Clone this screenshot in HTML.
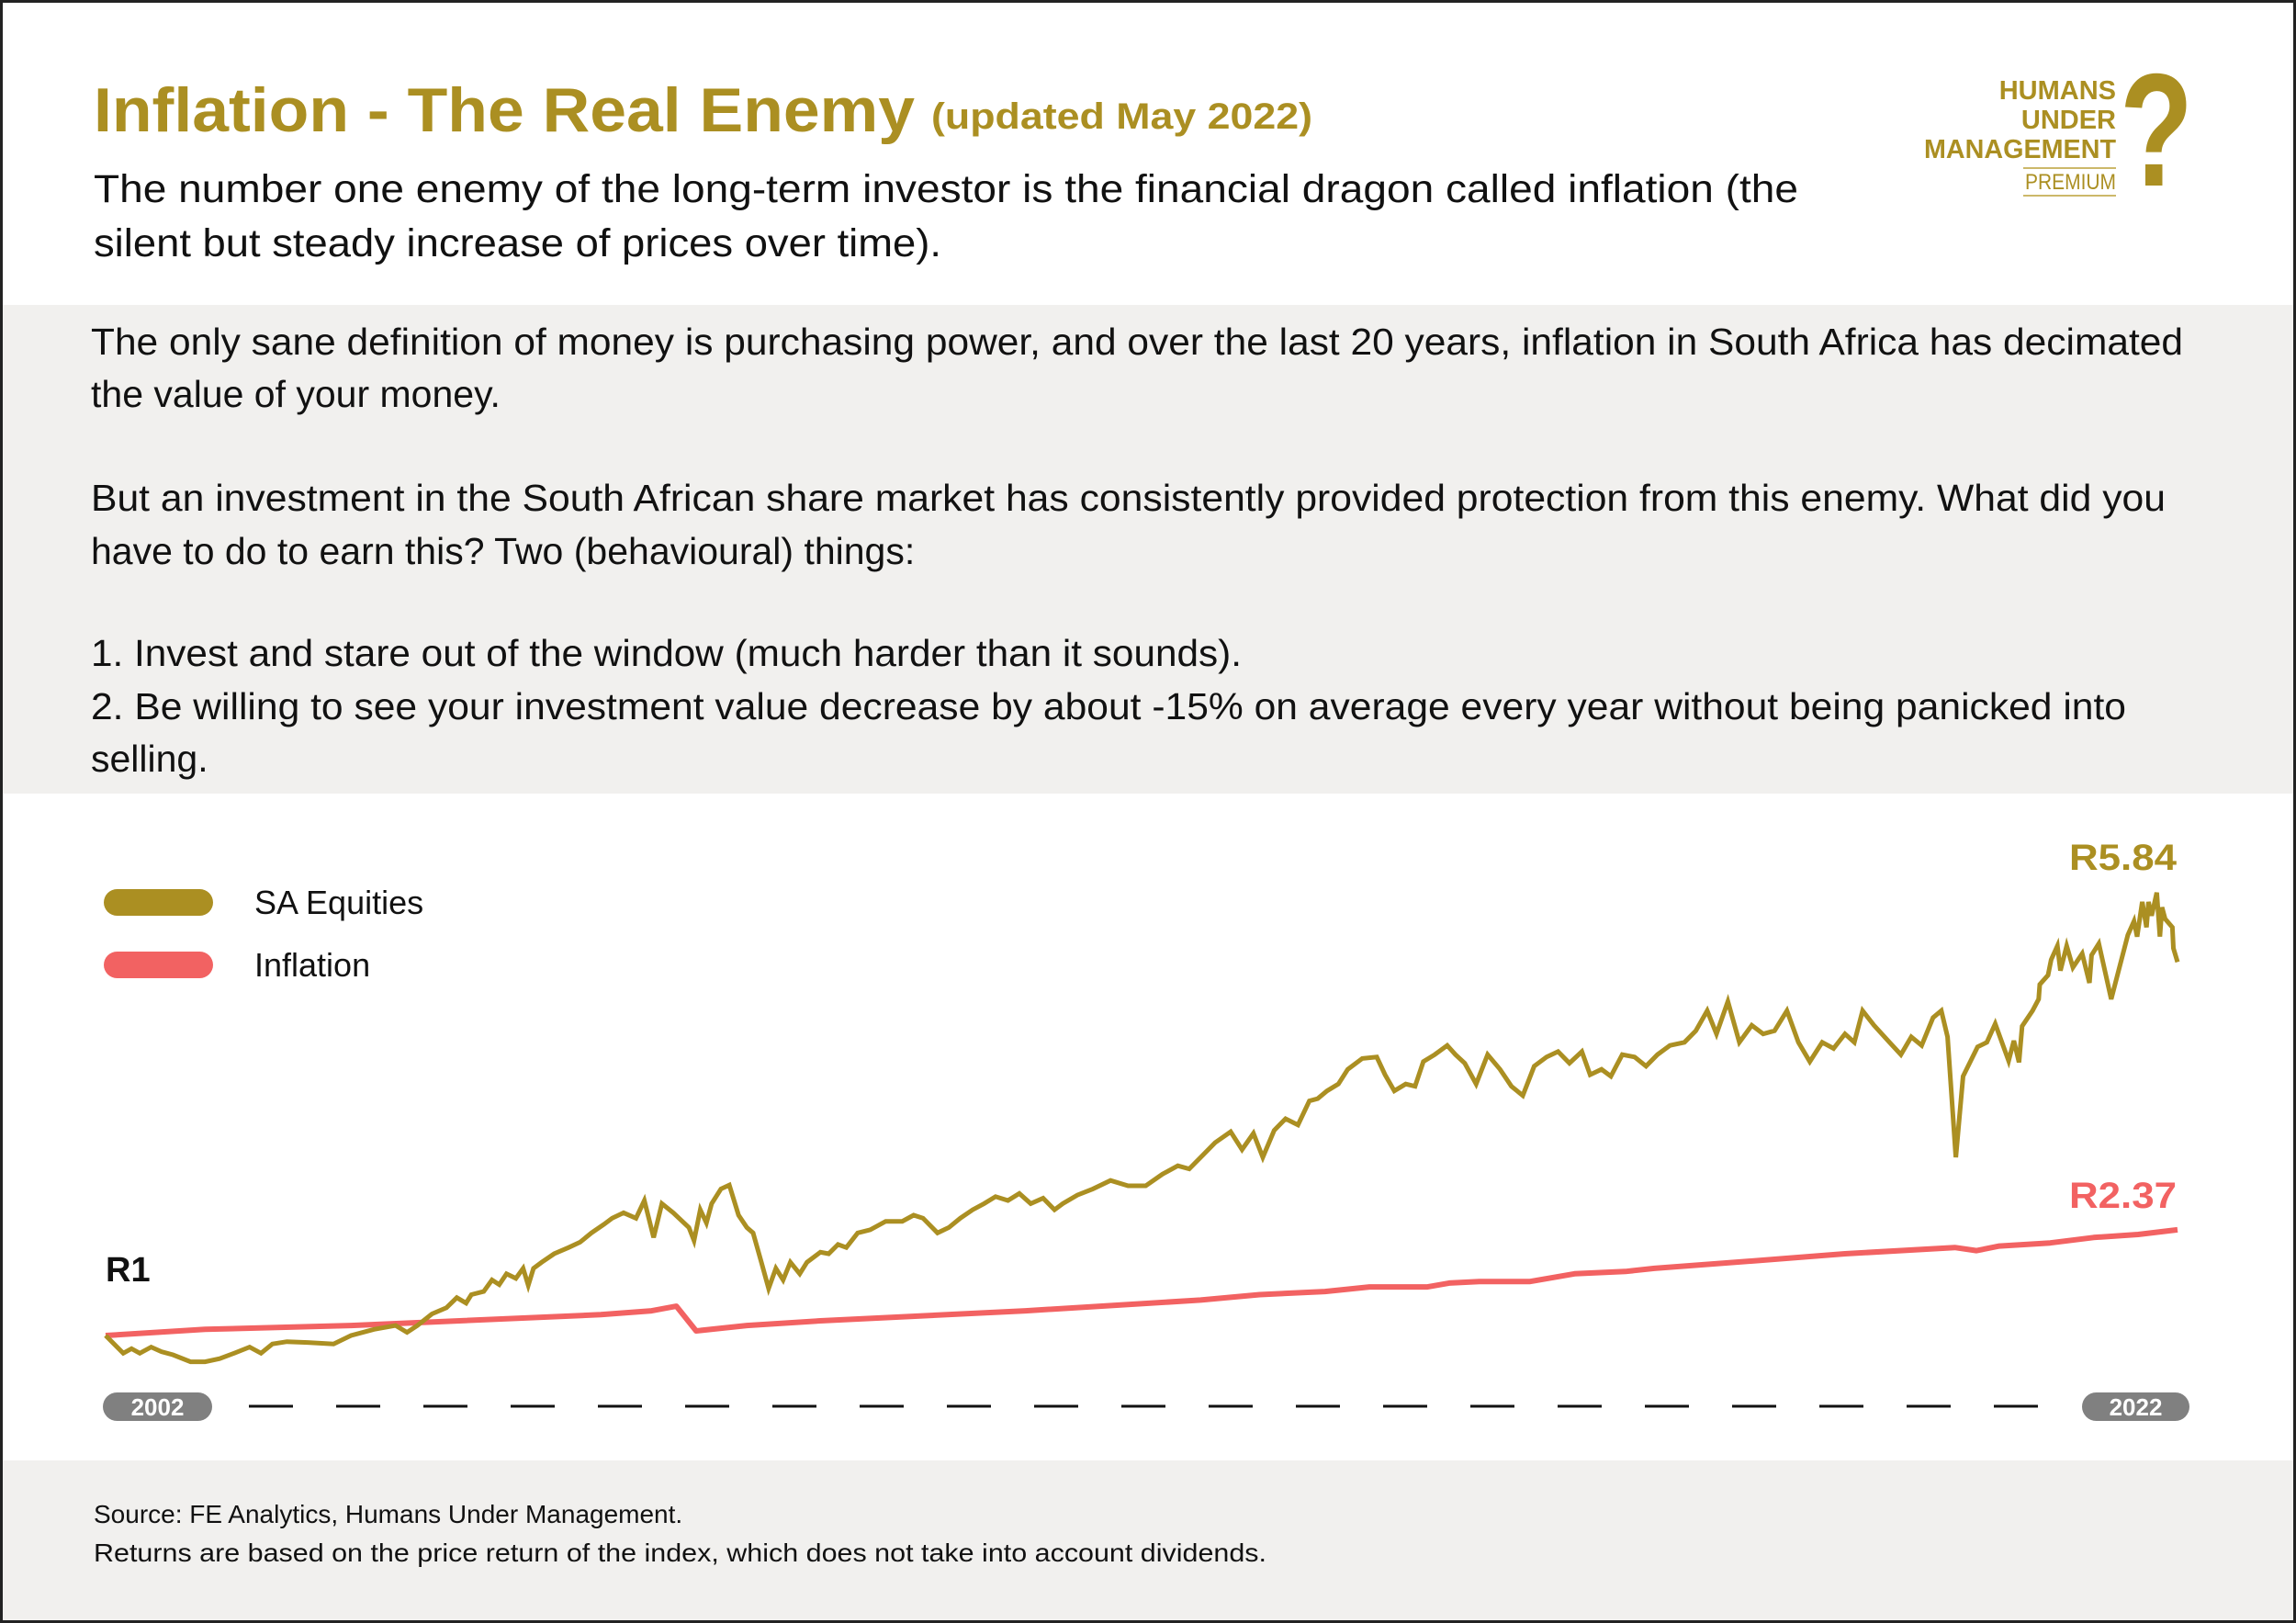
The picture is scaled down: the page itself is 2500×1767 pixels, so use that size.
<!DOCTYPE html>
<html><head><meta charset="utf-8"><style>
html,body{margin:0;padding:0;background:#fff}
svg{display:block}
text{font-family:"Liberation Sans",sans-serif}
</style></head><body>
<svg id="page" width="2500" height="1767" viewBox="0 0 2500 1767" xmlns="http://www.w3.org/2000/svg">
<rect x="0" y="0" width="2500" height="1767" fill="#fff"/>
<rect x="0" y="332" width="2500" height="532" fill="#f1f0ee"/>
<rect x="0" y="1590" width="2500" height="177" fill="#f1f0ee"/>
<rect x="1.5" y="1.5" width="2497" height="1764" fill="none" stroke="#222" stroke-width="3"/>

<text x="102" y="143" font-size="68" font-weight="bold" fill="#ab8f22" textLength="894" lengthAdjust="spacingAndGlyphs">Inflation - The Real Enemy</text>
<text x="1014" y="140" font-size="40" font-weight="bold" fill="#ab8f22" textLength="415" lengthAdjust="spacingAndGlyphs">(updated May 2022)</text>
<text x="102" y="220" font-size="43" fill="#111" textLength="1856" lengthAdjust="spacingAndGlyphs">The number one enemy of the long-term investor is the financial dragon called inflation (the</text>
<text x="102" y="279" font-size="43" fill="#111" textLength="923" lengthAdjust="spacingAndGlyphs">silent but steady increase of prices over time).</text>

<g fill="#ab8f22" font-weight="bold" text-anchor="end">
<text x="2304" y="108" font-size="29">HUMANS</text>
<text x="2304" y="140" font-size="29">UNDER</text>
<text x="2304" y="172" font-size="29" textLength="209" lengthAdjust="spacingAndGlyphs">MANAGEMENT</text>
<line x1="2203" y1="183" x2="2304" y2="183" stroke="#ccb86a" stroke-width="2"/>
<text x="2304" y="206" font-size="24" font-weight="normal" textLength="99" lengthAdjust="spacingAndGlyphs">PREMIUM</text>
<line x1="2203" y1="213" x2="2304" y2="213" stroke="#ccb86a" stroke-width="2"/>
<text x="2388" y="202" font-size="175" textLength="80" lengthAdjust="spacingAndGlyphs">?</text>
</g>

<g font-size="41" fill="#111">
<text x="99" y="386" textLength="2278" lengthAdjust="spacingAndGlyphs">The only sane definition of money is purchasing power, and over the last 20 years, inflation in South Africa has decimated</text>
<text x="99" y="443">the value of your money.</text>
<text x="99" y="556" textLength="2259" lengthAdjust="spacingAndGlyphs">But an investment in the South African share market has consistently provided protection from this enemy. What did you</text>
<text x="99" y="614">have to do to earn this? Two (behavioural) things:</text>
<text x="99" y="725" textLength="1253" lengthAdjust="spacingAndGlyphs">1. Invest and stare out of the window (much harder than it sounds).</text>
<text x="99" y="783" textLength="2216" lengthAdjust="spacingAndGlyphs">2. Be willing to see your investment value decrease by about -15% on average every year without being panicked into</text>
<text x="99" y="840">selling.</text>
</g>

<g>
<rect x="113" y="968" width="119" height="29" rx="14.5" fill="#ab8f22"/>
<text x="277" y="995" font-size="36" fill="#111">SA Equities</text>
<rect x="113" y="1036" width="119" height="29" rx="14.5" fill="#f26262"/>
<text x="277" y="1063" font-size="36" fill="#111">Inflation</text>
</g>

<g id="chart"></g>

<text x="115" y="1395" font-size="38" font-weight="bold" fill="#111">R1</text>
<text x="2253" y="947" font-size="40" font-weight="bold" fill="#ab8f22" textLength="117" lengthAdjust="spacingAndGlyphs">R5.84</text>
<text x="2253" y="1315" font-size="40" font-weight="bold" fill="#f26262" textLength="117" lengthAdjust="spacingAndGlyphs">R2.37</text>

<g>
<line x1="271" y1="1531" x2="2229" y2="1531" stroke="#111" stroke-width="3" stroke-dasharray="48 47"/>
<rect x="112" y="1516" width="119" height="31" rx="15.5" fill="#808080"/>
<text x="171.5" y="1541" font-size="26" font-weight="bold" fill="#fff" text-anchor="middle">2002</text>
<rect x="2267" y="1516" width="117" height="31" rx="15.5" fill="#808080"/>
<text x="2325.5" y="1541" font-size="26" font-weight="bold" fill="#fff" text-anchor="middle">2022</text>
</g>

<g font-size="28" fill="#111">
<text x="102" y="1658">Source: FE Analytics, Humans Under Management.</text>
<text x="102" y="1700" textLength="1277" lengthAdjust="spacingAndGlyphs">Returns are based on the price return of the index, which does not take into account dividends.</text>
</g>
</svg>
<script>
// years since Jan 2002
const eqYears = [0,0.17,0.25,0.33,0.44,0.54,0.65,0.82,0.96,1.10,1.24,1.39,1.50,1.61,1.75,1.95,2.20,2.37,2.59,2.80,2.91,3.01,3.15,3.29,3.39,3.48,3.53,3.65,3.73,3.80,3.87,3.96,4.03,4.08,4.13,4.21,4.33,4.47,4.58,4.69,4.81,4.89,5.00,5.12,5.20,5.29,5.37,5.48,5.63,5.68,5.74,5.80,5.85,5.94,6.02,6.11,6.19,6.25,6.33,6.40,6.47,6.54,6.61,6.70,6.77,6.90,6.98,7.07,7.15,7.26,7.38,7.53,7.69,7.80,7.89,8.03,8.14,8.25,8.37,8.48,8.59,8.71,8.82,8.93,9.05,9.16,9.24,9.38,9.53,9.70,9.87,10.04,10.20,10.35,10.46,10.60,10.71,10.86,10.97,11.08,11.17,11.28,11.39,11.51,11.62,11.70,11.79,11.90,11.99,12.13,12.27,12.35,12.44,12.55,12.64,12.72,12.83,12.95,13.03,13.12,13.23,13.34,13.46,13.57,13.68,13.79,13.91,14.02,14.13,14.25,14.33,14.44,14.53,14.64,14.76,14.87,14.98,15.10,15.24,15.35,15.46,15.55,15.66,15.77,15.89,16.00,16.11,16.23,16.34,16.45,16.57,16.68,16.79,16.88,16.96,17.07,17.22,17.33,17.43,17.53,17.64,17.72,17.78,17.86,17.93,18.07,18.16,18.24,18.37,18.42,18.47,18.50,18.60,18.66,18.67,18.75,18.78,18.84,18.87,18.93,18.99,19.08,19.15,19.17,19.24,19.36,19.52,19.58,19.61,19.66,19.70,19.72,19.75,19.80,19.83,19.85,19.88,19.95,19.96,20.0];
const eqValues = [1.00,0.77,0.83,0.77,0.85,0.79,0.75,0.66,0.66,0.70,0.77,0.85,0.77,0.89,0.92,0.91,0.89,1.00,1.08,1.13,1.04,1.13,1.28,1.36,1.49,1.42,1.53,1.57,1.72,1.66,1.80,1.74,1.87,1.65,1.87,1.95,2.06,2.14,2.21,2.33,2.44,2.52,2.59,2.52,2.75,2.27,2.71,2.59,2.40,2.23,2.63,2.46,2.71,2.90,2.95,2.56,2.40,2.33,1.95,1.61,1.87,1.72,1.95,1.80,1.95,2.08,2.06,2.18,2.14,2.33,2.37,2.48,2.48,2.56,2.52,2.33,2.40,2.52,2.63,2.71,2.80,2.75,2.84,2.71,2.78,2.63,2.71,2.82,2.90,3.01,2.94,2.94,3.09,3.20,3.16,3.35,3.50,3.64,3.41,3.62,3.31,3.66,3.81,3.73,4.04,4.07,4.17,4.26,4.45,4.59,4.61,4.38,4.17,4.26,4.23,4.55,4.64,4.76,4.64,4.53,4.26,4.64,4.45,4.23,4.11,4.49,4.61,4.68,4.53,4.68,4.38,4.45,4.36,4.64,4.61,4.49,4.64,4.76,4.80,4.95,5.21,4.91,5.33,4.80,5.02,4.91,4.95,5.21,4.80,4.55,4.80,4.72,4.91,4.80,5.21,5.02,4.80,4.64,4.87,4.76,5.12,5.21,4.87,3.31,4.36,4.74,4.80,5.04,4.56,4.82,4.54,5.01,5.21,5.36,5.55,5.67,5.87,6.05,5.73,6.05,5.77,5.95,5.57,5.93,6.08,5.36,6.19,6.37,6.17,6.62,6.29,6.62,6.44,6.74,6.17,6.55,6.40,6.29,6.02,5.84];
const infYears = [0,0.96,2.37,4.78,5.27,5.51,5.70,6.19,6.90,8.88,10.57,11.14,11.77,12.20,12.76,12.97,13.26,13.75,14.18,14.67,14.95,15.94,16.79,17.85,18.06,18.28,18.77,19.19,19.62,20.0];
const infValues = [1.00,1.08,1.13,1.27,1.32,1.38,1.06,1.13,1.19,1.32,1.46,1.53,1.57,1.63,1.63,1.68,1.70,1.70,1.80,1.83,1.87,1.97,2.06,2.14,2.10,2.16,2.20,2.27,2.31,2.37];

const X0 = 115, X1 = 2371, Y1 = 1454, PX_PER_UNIT = 84;
function xScale(t){ return X0 + t / 20 * (X1 - X0); }
function yScale(v){ return Y1 - (v - 1) * PX_PER_UNIT; }
function buildPath(ts, vs){
  return ts.map((t,i)=>(i?'L':'M') + xScale(t).toFixed(1) + ',' + yScale(vs[i]).toFixed(1)).join(' ');
}
const NS = 'http://www.w3.org/2000/svg';
const chart = document.getElementById('chart');
const inf = document.createElementNS(NS,'path');


inf.setAttribute('d', buildPath(infYears, infValues));
inf.setAttribute('fill','none');
inf.setAttribute('stroke','#f26262');
inf.setAttribute('stroke-width','6');
inf.setAttribute('stroke-linejoin','round');
chart.appendChild(inf);
const eq = document.createElementNS(NS,'path');


eq.setAttribute('d', buildPath(eqYears, eqValues));
eq.setAttribute('fill','none');
eq.setAttribute('stroke','#ab8f22');
eq.setAttribute('stroke-width','5');
eq.setAttribute('stroke-linejoin','miter');
chart.appendChild(eq);
</script>
</body></html>
